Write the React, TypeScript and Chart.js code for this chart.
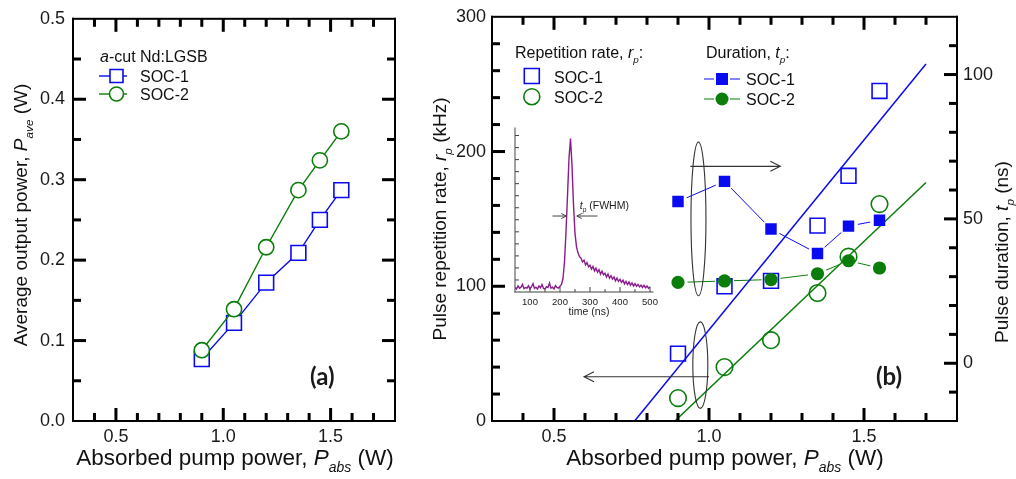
import { useEffect, useRef } from "react";
import { Chart, registerables } from "chart.js";

Chart.register(...registerables);

const FONT = '"Liberation Sans", Arial, Helvetica, sans-serif';
const PANEL_FONT = 'Lato, "Open Sans", sans-serif';
const BLUE = "#0a0af0";
const GREEN = "#0a7d0a";
const PURPLE = "#8a1c8c";
const INK = "#111";

// Absorbed pump power (W) shared by every series
const pumpPower = [0.9, 1.05, 1.2, 1.35, 1.45, 1.55];
// (a) average output power (W)
const outputSoc1 = [0.077, 0.122, 0.172, 0.209, 0.25, 0.287];
const outputSoc2 = [0.088, 0.139, 0.216, 0.287, 0.324, 0.36];
// (b) pulse repetition rate (kHz)
const rateSoc1 = [50, 100, 104, 145, 182, 245];
const rateSoc2 = [17, 40, 60, 95, 122, 161];
// (b) pulse duration (ns)
const durationSoc1 = [56, 63, 46.5, 38, 47.5, 49.5];
const durationSoc2 = [28, 28.5, 29, 31, 35.5, 33];
// (b) linear fits of the repetition rate (end points)
const fitPowerSoc1 = [0.76, 1.7];
const fitRateSoc1 = [0, 265];
const fitPowerSoc2 = [0.89, 1.7];
const fitRateSoc2 = [0, 177];

// inset: oscilloscope trace of a single pulse (normalised)
const pulseTime = [
  50, 55, 60, 65, 70, 75, 80, 85, 90, 95,
  100, 105, 110, 115, 120, 125, 130, 135, 140, 145,
  150, 155, 160, 165, 170, 175, 180, 185, 190, 195,
  200, 205, 210, 215, 220, 225, 230, 235, 240, 245,
  250, 255, 260, 265, 270, 275, 280, 285, 290, 295,
  300, 305, 310, 315, 320, 325, 330, 335, 340, 345,
  350, 355, 360, 365, 370, 375, 380, 385, 390, 395,
  400, 405, 410, 415, 420, 425, 430, 435, 440, 445,
  450, 455, 460, 465, 470, 475, 480, 485, 490, 495,
  500,
];
const pulseSignal = [
  0.010, 0.000, 0.020, 0.005, 0.012, 0.030, 0.002, 0.010, 0.006, 0.022,
  0.000, 0.015, 0.035, 0.004, 0.012, 0.000, 0.020, 0.008, 0.030, 0.004,
  0.000, 0.016, 0.010, 0.040, 0.006, 0.012, 0.000, 0.022, 0.010, 0.005,
  0.018, 0.030, 0.070, 0.180, 0.380, 0.620, 0.870, 1.000, 0.820, 0.560,
  0.370, 0.280, 0.240, 0.215, 0.205, 0.180, 0.192, 0.160, 0.176, 0.148,
  0.158, 0.132, 0.150, 0.120, 0.138, 0.112, 0.128, 0.098, 0.118, 0.094,
  0.104, 0.080, 0.100, 0.072, 0.088, 0.066, 0.080, 0.054, 0.072, 0.050,
  0.064, 0.044, 0.058, 0.034, 0.050, 0.030, 0.046, 0.024, 0.040, 0.020,
  0.036, 0.018, 0.030, 0.014, 0.026, 0.010, 0.024, 0.008, 0.020, 0.004,
  0.016,
];

// tick values and labels
const pumpTicks = [0.5, 1.0, 1.5];
const pumpTickLabels = ["0.5", "1.0", "1.5"];
const pumpMinorTicks = [0.4, 0.6, 0.7, 0.8, 0.9, 1.1, 1.2, 1.3, 1.4, 1.6, 1.7];
const outputTicks = [0.1, 0.2, 0.3, 0.4];
const outputTickLabels = ["0.0", "0.1", "0.2", "0.3", "0.4", "0.5"];
const outputLabelValues = [0, 0.1, 0.2, 0.3, 0.4, 0.5];
const outputMinorTicks = [0.05, 0.15, 0.25, 0.35, 0.45];
const rateTicks = [100, 200];
const rateLabelValues = [0, 100, 200, 300];
const rateTickLabels = ["0", "100", "200", "300"];
const rateMinorTicks = [20, 40, 60, 80, 120, 140, 160, 180, 220, 240, 260, 280];
const durationTicks = [0, 50, 100];
const durationTickLabels = ["0", "50", "100"];
const durationMinorTicks = [-10, 10, 20, 30, 40, 60, 70, 80, 90, 110];
const timeTicks = [100, 200, 300, 400, 500];
const timeTickLabels = ["100", "200", "300", "400", "500"];
const timeMinorTicks = [150, 250, 350, 450];
const insetLevelTicks = [0.06, 0.14, 0.22, 0.3, 0.38, 0.46, 0.54, 0.62, 0.7, 0.78, 0.86, 0.94, 1.02];

type Seg = { t: string; it?: boolean; sub?: boolean; bold?: boolean };

const segFont = (size: number, s: Seg, family = FONT) =>
  `${s.it ? "italic " : ""}${s.bold ? "bold " : ""}${s.sub ? size * 0.62 : size}px ${family}`;

function richWidth(ctx: CanvasRenderingContext2D, segs: Seg[], size: number, family = FONT) {
  let w = 0;
  for (const s of segs) {
    ctx.font = segFont(size, s, family);
    w += ctx.measureText(s.t).width;
  }
  return w;
}

function drawRich(
  ctx: CanvasRenderingContext2D,
  segs: Seg[],
  x: number,
  y: number,
  size: number,
  align: "left" | "center" = "left",
  rotate = false,
  color = INK,
  family = FONT
) {
  ctx.save();
  ctx.translate(x, y);
  if (rotate) ctx.rotate(-Math.PI / 2);
  const w = richWidth(ctx, segs, size, family);
  let cx = align === "center" ? -w / 2 : 0;
  ctx.fillStyle = color;
  ctx.textAlign = "left";
  ctx.textBaseline = "alphabetic";
  for (const s of segs) {
    ctx.font = segFont(size, s, family);
    ctx.fillText(s.t, cx, s.sub ? size * 0.33 : 0);
    cx += ctx.measureText(s.t).width;
  }
  ctx.restore();
}

function arrow(ctx: CanvasRenderingContext2D, x0: number, y0: number, x1: number, y1: number, head = 10, half = 5) {
  const a = Math.atan2(y1 - y0, x1 - x0);
  ctx.beginPath();
  ctx.moveTo(x0, y0);
  ctx.lineTo(x1, y1);
  ctx.moveTo(x1 - head * Math.cos(a) + half * Math.sin(a), y1 - head * Math.sin(a) - half * Math.cos(a));
  ctx.lineTo(x1, y1);
  ctx.lineTo(x1 - head * Math.cos(a) - half * Math.sin(a), y1 - head * Math.sin(a) + half * Math.cos(a));
  ctx.stroke();
}

// inward tick marks drawn as filled bars along one edge of the plot box
function tickBars(
  chart: any,
  scaleId: string,
  edge: string,
  values: number[],
  len: number,
  w: number,
  color: string
) {
  const ctx = chart.ctx as CanvasRenderingContext2D;
  const area = chart.chartArea;
  const sc = chart.scales[scaleId];
  ctx.save();
  ctx.fillStyle = color;
  for (const v of values) {
    const p = sc.getPixelForValue(v);
    if (edge === "left") ctx.fillRect(area.left, p - w / 2, len, w);
    else if (edge === "right") ctx.fillRect(area.right - len, p - w / 2, len, w);
    else if (edge === "top") ctx.fillRect(p - w / 2, area.top, w, len);
    else ctx.fillRect(p - w / 2, area.bottom - len, w, len);
  }
  ctx.restore();
}

function boxEdges(chart: any, edges: string[], w: number, color: string) {
  const ctx = chart.ctx as CanvasRenderingContext2D;
  const a = chart.chartArea;
  ctx.save();
  ctx.fillStyle = color;
  if (edges.indexOf("left") >= 0) ctx.fillRect(a.left - w / 2, a.top - w / 2, w, a.bottom - a.top + w);
  if (edges.indexOf("right") >= 0) ctx.fillRect(a.right - w / 2, a.top - w / 2, w, a.bottom - a.top + w);
  if (edges.indexOf("top") >= 0) ctx.fillRect(a.left - w / 2, a.top - w / 2, a.right - a.left + w, w);
  if (edges.indexOf("bottom") >= 0) ctx.fillRect(a.left - w / 2, a.bottom - w / 2, a.right - a.left + w, w);
  ctx.restore();
}

function axis(
  min: number,
  max: number,
  ticks: number[],
  labels: string[],
  size: number,
  padding: number,
  fit: (s: any) => void,
  extra: Record<string, unknown> = {}
) {
  return {
    type: "linear",
    min,
    max,
    grid: { display: false, drawTicks: false },
    border: { display: false },
    ticks: {
      autoSkip: false,
      maxRotation: 0,
      padding,
      color: "#1a1a1a",
      font: { family: FONT, size },
      callback: (_v: number, i: number) => labels[i],
    },
    afterBuildTicks: (s: any) => {
      s.ticks = ticks.map((value) => ({ value }));
    },
    afterFit: fit,
    ...extra,
  };
}

const pts = (xs: number[], ys: number[]) => xs.map((x, i) => ({ x, y: ys[i] }));

const base = {
  responsive: false,
  animation: false,
  devicePixelRatio: 1,
  events: [],
  plugins: { legend: { display: false }, tooltip: { enabled: false } },
};

const powerTitle: Seg[] = [{ t: "Absorbed pump power, " }, { t: "P", it: true }, { t: "abs", it: true, sub: true }, { t: " (W)" }];

function squareAt(ctx: CanvasRenderingContext2D, x: number, y: number, side: number, fill: string | null, stroke: string | null, lw = 1.6) {
  ctx.beginPath();
  ctx.rect(x - side / 2, y - side / 2, side, side);
  if (fill) { ctx.fillStyle = fill; ctx.fill(); }
  if (stroke) { ctx.strokeStyle = stroke; ctx.lineWidth = lw; ctx.stroke(); }
}

function circleAt(ctx: CanvasRenderingContext2D, x: number, y: number, r: number, fill: string | null, stroke: string | null, lw = 1.6) {
  ctx.beginPath();
  ctx.arc(x, y, r, 0, Math.PI * 2);
  if (fill) { ctx.fillStyle = fill; ctx.fill(); }
  if (stroke) { ctx.strokeStyle = stroke; ctx.lineWidth = lw; ctx.stroke(); }
}

function configA(): any {
  const decor = {
    id: "decorA",
    afterDraw(chart: any) {
      const ctx = chart.ctx as CanvasRenderingContext2D;
      boxEdges(chart, ["left", "right", "top", "bottom"], 2, "#000");
      tickBars(chart, "x", "bottom", pumpTicks, 13, 3, "#000");
      tickBars(chart, "x", "bottom", pumpMinorTicks, 8, 3, "#000");
      tickBars(chart, "x", "top", pumpTicks, 13, 3, "#000");
      tickBars(chart, "x", "top", pumpMinorTicks, 8, 3, "#000");
      tickBars(chart, "y", "left", outputTicks, 13, 3, "#000");
      tickBars(chart, "y", "left", outputMinorTicks, 8, 3, "#000");
      tickBars(chart, "y", "right", outputTicks, 13, 3, "#000");
      tickBars(chart, "y", "right", outputMinorTicks, 8, 3, "#000");
      drawRich(ctx, powerTitle, 235, 465, 22.5, "center");
      drawRich(
        ctx,
        [{ t: "Average output power, " }, { t: "P", it: true }, { t: "ave", it: true, sub: true }, { t: " (W)" }],
        27,
        215,
        19,
        "center",
        true
      );
      // legend
      drawRich(ctx, [{ t: "a", it: true }, { t: "-cut Nd:LGSB" }], 100, 62, 16, "left");
      ctx.save();
      ctx.lineWidth = 1.4;
      ctx.strokeStyle = BLUE;
      ctx.beginPath(); ctx.moveTo(99, 76); ctx.lineTo(127, 76); ctx.stroke();
      squareAt(ctx, 116.5, 76, 13, "#fff", BLUE);
      ctx.strokeStyle = GREEN;
      ctx.lineWidth = 1.4;
      ctx.beginPath(); ctx.moveTo(99, 94); ctx.lineTo(127, 94); ctx.stroke();
      circleAt(ctx, 116.5, 94, 7, "#fff", GREEN);
      ctx.restore();
      drawRich(ctx, [{ t: "SOC-1" }], 140, 81.5, 16);
      drawRich(ctx, [{ t: "SOC-2" }], 140, 99.5, 16);
      drawRich(ctx, [{ t: "(a)", bold: true }], 310, 385, 24, "left", false, "#1a1a1a", PANEL_FONT);
    },
  };
  return {
    type: "scatter",
    data: {
      datasets: [
        {
          data: pts(pumpPower, outputSoc2),
          showLine: true,
          borderColor: GREEN,
          borderWidth: 1.4,
          pointStyle: "circle",
          pointRadius: 7.6,
          pointBorderWidth: 1.6,
          pointBorderColor: GREEN,
          pointBackgroundColor: "#fff",
          order: 0,
        },
        {
          data: pts(pumpPower, outputSoc1),
          showLine: true,
          borderColor: BLUE,
          borderWidth: 1.4,
          pointStyle: "rect",
          pointRadius: 10.5,
          pointBorderWidth: 1.6,
          pointBorderColor: BLUE,
          pointBackgroundColor: "#fff",
          order: 1,
        },
      ],
    },
    options: {
      ...base,
      layout: { padding: { left: 0, right: 25, top: 16, bottom: 0 } },
      scales: {
        x: axis(0.3, 1.8, pumpTicks, pumpTickLabels, 18, 5, (s) => { s.height = 58; }),
        y: axis(0, 0.5, outputLabelValues, outputTickLabels, 18, 8, (s) => { s.width = 73; }),
      },
    },
    plugins: [decor],
  };
}

function configB(): any {
  // duration series are joined by short segments that stop short of each marker
  const gapLines = {
    id: "gapLines",
    beforeDatasetsDraw(chart: any) {
      const ctx = chart.ctx as CanvasRenderingContext2D;
      ctx.save();
      ctx.lineWidth = 1;
      chart.data.datasets.forEach((ds: any, i: number) => {
        if (!ds.gapLine) return;
        const els = chart.getDatasetMeta(i).data;
        ctx.strokeStyle = ds.borderColor;
        ctx.beginPath();
        for (let k = 0; k < els.length - 1; k++) {
          const p = els[k], q = els[k + 1];
          const dx = q.x - p.x, dy = q.y - p.y;
          const d = Math.hypot(dx, dy);
          const g = 9.5;
          if (d <= 2 * g) continue;
          ctx.moveTo(p.x + (dx / d) * g, p.y + (dy / d) * g);
          ctx.lineTo(q.x - (dx / d) * g, q.y - (dy / d) * g);
        }
        ctx.stroke();
      });
      ctx.restore();
    },
  };
  const decor = {
    id: "decorB",
    afterDraw(chart: any) {
      const ctx = chart.ctx as CanvasRenderingContext2D;
      const x = chart.scales.x, y = chart.scales.y;
      boxEdges(chart, ["left", "right", "top", "bottom"], 2, "#000");
      tickBars(chart, "x", "bottom", pumpTicks, 13, 3, "#000");
      tickBars(chart, "x", "bottom", pumpMinorTicks, 8, 3, "#000");
      tickBars(chart, "x", "top", pumpTicks, 13, 3, "#000");
      tickBars(chart, "x", "top", pumpMinorTicks, 8, 3, "#000");
      tickBars(chart, "y", "left", rateTicks, 13, 3, "#000");
      tickBars(chart, "y", "left", rateMinorTicks, 8, 3, "#000");
      tickBars(chart, "y1", "right", durationTicks, 13, 3, "#000");
      tickBars(chart, "y1", "right", durationMinorTicks, 8, 3, "#000");
      drawRich(ctx, powerTitle, 305, 465, 22.5, "center");
      drawRich(
        ctx,
        [{ t: "Pulse repetition rate, " }, { t: "r", it: true }, { t: "p", it: true, sub: true }, { t: " (kHz)" }],
        25.5,
        219,
        19,
        "center",
        true
      );
      drawRich(
        ctx,
        [{ t: "Pulse duration, " }, { t: "t", it: true }, { t: "p", it: true, sub: true }, { t: " (ns)" }],
        588,
        252,
        19,
        "center",
        true
      );
      // legend: repetition rate
      drawRich(ctx, [{ t: "Repetition rate, " }, { t: "r", it: true }, { t: "p", it: true, sub: true }, { t: ":" }], 95, 57.5, 16);
      ctx.save();
      squareAt(ctx, 111.8, 76, 15, null, BLUE);
      circleAt(ctx, 111.8, 96.7, 8, null, GREEN);
      ctx.restore();
      drawRich(ctx, [{ t: "SOC-1" }], 134, 82.5, 16);
      drawRich(ctx, [{ t: "SOC-2" }], 134, 102.5, 16);
      // legend: duration
      drawRich(ctx, [{ t: "Duration, " }, { t: "t", it: true }, { t: "p", it: true, sub: true }, { t: ":" }], 286, 58, 16);
      ctx.save();
      ctx.lineWidth = 1;
      ctx.strokeStyle = BLUE;
      ctx.beginPath();
      ctx.moveTo(284, 79); ctx.lineTo(294, 79); ctx.moveTo(310, 79); ctx.lineTo(320, 79);
      ctx.stroke();
      squareAt(ctx, 302, 79, 12, BLUE, null);
      ctx.strokeStyle = GREEN;
      ctx.beginPath();
      ctx.moveTo(284, 99); ctx.lineTo(294, 99); ctx.moveTo(310, 99); ctx.lineTo(320, 99);
      ctx.stroke();
      circleAt(ctx, 302, 99, 6.5, GREEN, null);
      ctx.restore();
      drawRich(ctx, [{ t: "SOC-1" }], 326, 84.5, 16);
      drawRich(ctx, [{ t: "SOC-2" }], 326, 104.5, 16);
      // axis-pointer ellipses and arrows
      ctx.save();
      ctx.strokeStyle = "#333";
      ctx.lineWidth = 1.1;
      const e1x = x.getPixelForValue(0.966);
      const e1t = y.getPixelForValue(207), e1b = y.getPixelForValue(93);
      ctx.beginPath();
      ctx.ellipse(e1x, (e1t + e1b) / 2, 7.5, (e1b - e1t) / 2, 0, 0, Math.PI * 2);
      ctx.stroke();
      arrow(ctx, x.getPixelForValue(0.94), y.getPixelForValue(189), x.getPixelForValue(1.23), y.getPixelForValue(189));
      const e2x = x.getPixelForValue(0.972);
      const e2t = y.getPixelForValue(73.6), e2b = y.getPixelForValue(9.4);
      ctx.beginPath();
      ctx.ellipse(e2x, (e2t + e2b) / 2, 7.5, (e2b - e2t) / 2, 0, 0, Math.PI * 2);
      ctx.stroke();
      arrow(ctx, x.getPixelForValue(1.0), y.getPixelForValue(32.8), x.getPixelForValue(0.597), y.getPixelForValue(32.8));
      ctx.restore();
      drawRich(ctx, [{ t: "(b)", bold: true }], 456, 385, 24, "left", false, "#1a1a1a", PANEL_FONT);
    },
  };
  return {
    type: "scatter",
    data: {
      datasets: [
        {
          data: pts(pumpPower, durationSoc1),
          yAxisID: "y1",
          gapLine: true,
          borderColor: BLUE,
          pointStyle: "rect",
          pointRadius: 8.1,
          pointBorderWidth: 0,
          pointBackgroundColor: BLUE,
          order: 0,
        },
        {
          data: pts(pumpPower, durationSoc2),
          yAxisID: "y1",
          gapLine: true,
          borderColor: GREEN,
          pointStyle: "circle",
          pointRadius: 6.6,
          pointBorderWidth: 0,
          pointBackgroundColor: GREEN,
          order: 1,
        },
        {
          data: pts(pumpPower, rateSoc1),
          yAxisID: "y",
          pointStyle: "rect",
          pointRadius: 10.5,
          pointBorderWidth: 1.6,
          pointBorderColor: BLUE,
          pointBackgroundColor: "rgba(0,0,0,0)",
          order: 2,
        },
        {
          data: pts(pumpPower, rateSoc2),
          yAxisID: "y",
          pointStyle: "circle",
          pointRadius: 8.3,
          pointBorderWidth: 1.6,
          pointBorderColor: GREEN,
          pointBackgroundColor: "rgba(0,0,0,0)",
          order: 3,
        },
        {
          data: pts(fitPowerSoc1, fitRateSoc1),
          yAxisID: "y",
          showLine: true,
          borderColor: BLUE,
          borderWidth: 1.5,
          pointRadius: 0,
          order: 4,
        },
        {
          data: pts(fitPowerSoc2, fitRateSoc2),
          yAxisID: "y",
          showLine: true,
          borderColor: GREEN,
          borderWidth: 1.5,
          pointRadius: 0,
          order: 5,
        },
      ],
    },
    options: {
      ...base,
      layout: { padding: { left: 0, right: 0, top: 16, bottom: 0 } },
      scales: {
        x: axis(0.3, 1.8, pumpTicks, pumpTickLabels, 18, 5, (s) => { s.height = 58; }),
        y: axis(0, 300, rateLabelValues, rateTickLabels, 18, 6, (s) => { s.width = 72; }),
        y1: axis(-20, 120, durationTicks, durationTickLabels, 18, 6, (s) => { s.width = 59; }, { position: "right" }),
      },
    },
    plugins: [gapLines, decor],
  };
}

function configInset(): any {
  const decor = {
    id: "decorInset",
    afterDraw(chart: any) {
      const ctx = chart.ctx as CanvasRenderingContext2D;
      const x = chart.scales.x, y = chart.scales.y;
      boxEdges(chart, ["left", "bottom"], 1, "#444");
      tickBars(chart, "x", "bottom", timeTicks, 5, 1, "#444");
      tickBars(chart, "x", "bottom", timeMinorTicks, 3, 1, "#444");
      tickBars(chart, "y", "left", insetLevelTicks, 4, 1, "#444");
      drawRich(ctx, [{ t: "time (ns)" }], 89, 197, 10.5, "center", false, "#222");
      ctx.save();
      ctx.strokeStyle = "#444";
      ctx.lineWidth = 1;
      const yy = y.getPixelForValue(0.485);
      arrow(ctx, x.getPixelForValue(175), yy, x.getPixelForValue(221), yy, 5, 2.5);
      arrow(ctx, x.getPixelForValue(325), yy, x.getPixelForValue(256), yy, 5, 2.5);
      ctx.restore();
      drawRich(
        ctx,
        [{ t: "t", it: true }, { t: "p", it: true, sub: true }, { t: " (FWHM)" }],
        x.getPixelForValue(266),
        y.getPixelForValue(0.56) + 4,
        10.5,
        "left",
        false,
        "#222"
      );
    },
  };
  return {
    type: "scatter",
    data: {
      datasets: [
        {
          data: pts(pulseTime, pulseSignal),
          showLine: true,
          borderColor: PURPLE,
          borderWidth: 1.4,
          pointRadius: 0,
        },
      ],
    },
    options: {
      ...base,
      layout: { padding: { left: 15, right: 17, top: 10, bottom: 0 } },
      scales: {
        x: axis(50, 510, timeTicks, timeTickLabels, 9.5, 5, (s) => { s.height = 31; }),
        y: { type: "linear", min: -0.02, max: 1.07, display: false },
      },
    },
    plugins: [decor],
  };
}

export default function App() {
  const aRef = useRef<HTMLCanvasElement>(null);
  const bRef = useRef<HTMLCanvasElement>(null);
  const insetRef = useRef<HTMLCanvasElement>(null);

  useEffect(() => {
    const charts = [
      new Chart(aRef.current!, configA()),
      new Chart(bRef.current!, configB()),
      new Chart(insetRef.current!, configInset()),
    ];
    return () => charts.forEach((c) => c.destroy());
  }, []);

  return (
    <div style={{ position: "absolute", left: 0, top: 0, width: 1016, height: 479, background: "#fff", overflow: "hidden" }}>
      <canvas ref={aRef} width={420} height={479} style={{ position: "absolute", left: 0, top: 0, width: 420, height: 479 }} />
      <canvas ref={bRef} width={596} height={479} style={{ position: "absolute", left: 420, top: 0, width: 596, height: 479 }} />
      <canvas ref={insetRef} width={170} height={205} style={{ position: "absolute", left: 500, top: 118, width: 170, height: 205 }} />
    </div>
  );
}
